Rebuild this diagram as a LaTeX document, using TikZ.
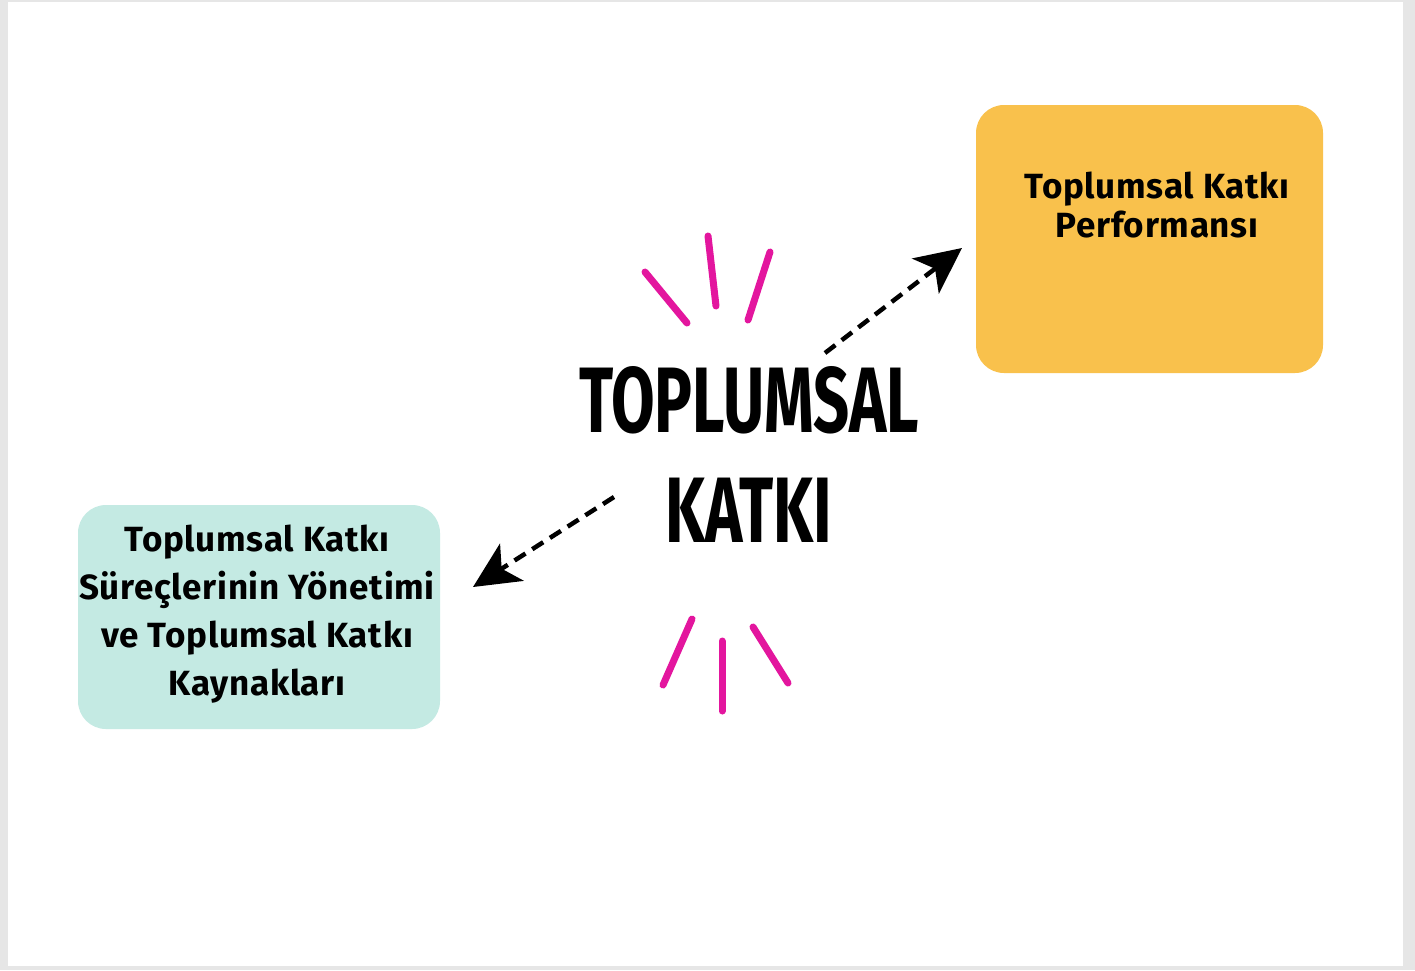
\documentclass[tikz,border=0pt]{standalone}
\usepackage{fontspec}
\setmainfont{Fira Sans}
\newfontfamily\titlefont{Fira Sans}[FakeStretch=0.68]
\newfontfamily\boxfont{Fira Sans}[LetterSpace=2.0]
\usetikzlibrary{arrows.meta}

\definecolor{perfyellow}{HTML}{F9C14C}
\definecolor{kaynakteal}{HTML}{C4EAE3}
\definecolor{sparkpink}{HTML}{E3169E}
\definecolor{pageframe}{HTML}{E6E6E6}

\newcommand{\spark}[4]{
	\draw[sparkpink, line width=7pt, line cap=round] (#1, #2) -- (#3, #4);
}

\begin{document}
\begin{tikzpicture}[x=1pt, y=-1pt,
	kutu/.style={rounded corners=28pt, inner sep=0pt},
	kututext/.style={font=\boxfont\bfseries\fontsize{35}{#1}\selectfont, align=center},
	oklar/.style={line width=4.5pt, dash pattern=on 13pt off 8pt,
		-{Stealth[length=46pt, width=44pt, inset=12pt]}}]

% page
\fill[pageframe] (0,0) rectangle (1415,970);
\fill[white] (8,2) rectangle (1403,966);
\useasboundingbox (0,0) rectangle (1415,970);

\pgfmathsetmacro{\tkX}{749}
\pgfmathsetmacro{\tkY}{454}

\node[font=\titlefont\bfseries\fontsize{93}{110}\selectfont, align=center, inner sep=0pt]
	(baslik) at (\tkX, \tkY) {TOPLUMSAL\\KATKI};

% boxes
\node[kutu, fill=perfyellow, minimum width=347pt, minimum height=268pt] (perf) at (1149.5, 239) {};
\node[kututext=39pt, inner sep=0pt] (perftxt) at (1157, 205) {Toplumsal Katkı\\Performansı};

\node[kutu, fill=kaynakteal, minimum width=362pt, minimum height=224pt] (kaynak) at (259, 617) {};
\node[kututext=48pt, inner sep=0pt] (kaynaktxt) at (257, 614)
	{Toplumsal Katkı\\Süreçlerinin Yönetimi\\ve Toplumsal Katkı\\Kaynakları};

% arrows
\coordinate (ustA) at (825, 353);
\coordinate (ustB) at (962, 248);
\coordinate (altA) at (614, 497);
\coordinate (altB) at (473, 587);
\draw[oklar] (ustA) -- (ustB);
\draw[oklar] (altA) -- (altB);

% sparks
\spark{645}{272}{687}{323}
\spark{708}{236}{716}{306}
\spark{770}{252}{748}{320}

\spark{692}{619}{663}{685}
\spark{722}{641}{722}{711}
\spark{753}{627}{788}{683}
\end{tikzpicture}
\end{document}
